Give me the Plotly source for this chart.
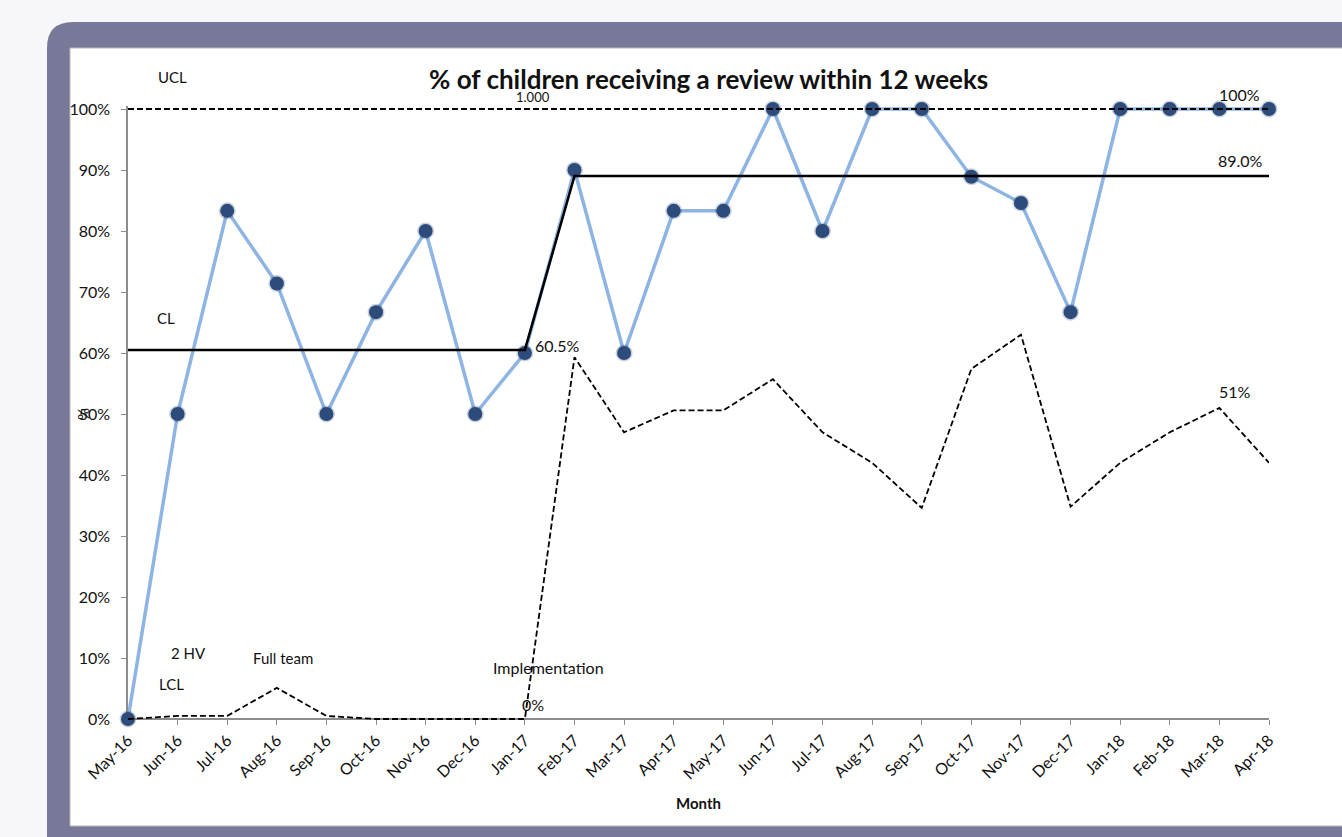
import plotly.graph_objects as go

# ---- data ----
months = ["May-16", "Jun-16", "Jul-16", "Aug-16", "Sep-16", "Oct-16", "Nov-16",
          "Dec-16", "Jan-17", "Feb-17", "Mar-17", "Apr-17", "May-17", "Jun-17",
          "Jul-17", "Aug-17", "Sep-17", "Oct-17", "Nov-17", "Dec-17", "Jan-18",
          "Feb-18", "Mar-18", "Apr-18"]
pct_reviewed = [0, 50, 83.3, 71.4, 50, 66.7, 80, 50, 60, 90, 60, 83.3, 83.3,
                100, 80, 100, 100, 88.9, 84.6, 66.7, 100, 100, 100, 100]
centre_line = [60.5, 60.5, 60.5, 60.5, 60.5, 60.5, 60.5, 60.5, 60.5,
               89.0, 89.0, 89.0, 89.0, 89.0, 89.0, 89.0, 89.0, 89.0, 89.0,
               89.0, 89.0, 89.0, 89.0, 89.0]
upper_limit = [100, 100, 100, 100, 100, 100, 100, 100, 100, 100, 100, 100,
               100, 100, 100, 100, 100, 100, 100, 100, 100, 100, 100, 100]
lower_limit = [0, 0.5, 0.5, 5.1, 0.5, 0, 0, 0, 0, 59.3, 47, 50.6, 50.6, 55.7,
               47, 42, 34.6, 57.4, 63, 34.8, 42, 47, 51, 42]
y_ticks = [0, 10, 20, 30, 40, 50, 60, 70, 80, 90, 100]
y_tick_text = ["0%", "10%", "20%", "30%", "40%", "50%", "60%", "70%", "80%",
               "90%", "100%"]

# ---- page geometry (pixels) ----
W, H = 1342, 837
PAD = 3                      # px of headroom so limit lines at 0/100 aren't clipped
L, R, T, B = 128, 73, 109 - PAD, 118 - PAD
PW, PH = W - L - R, H - T - B
UNIT = (PH - 2 * PAD) / 100  # px per percentage point
Y_PAD = PAD / UNIT
FONT = "Lato, 'Open Sans', sans-serif"
x_idx = list(range(len(months)))


def px(x):
    return (x - L) / PW


def py(y):
    return (H - B - y) / PH


fig = go.Figure()

# measured series
fig.add_trace(go.Scatter(
    x=x_idx, y=pct_reviewed, mode="lines+markers", cliponaxis=False,
    line=dict(color="#8db4e2", width=3.5),
    marker=dict(size=14, color="#2d4b7b",
                line=dict(color="rgba(45,75,123,0.25)", width=3)),
    showlegend=False, hoverinfo="x+y"))

# centre line
fig.add_trace(go.Scatter(
    x=x_idx, y=centre_line, mode="lines", cliponaxis=False,
    line=dict(color="black", width=2.5), showlegend=False))

# upper and lower control limits
fig.add_trace(go.Scatter(
    x=x_idx, y=upper_limit, mode="lines", cliponaxis=False,
    line=dict(color="black", width=1.8, dash="6px,3px"), showlegend=False))
fig.add_trace(go.Scatter(
    x=x_idx, y=lower_limit, mode="lines", cliponaxis=False,
    line=dict(color="black", width=1.8, dash="6px,3px"), showlegend=False))

# ---- frame ----
x0o, y0o, rad = 47, 22, 26
x1o, y1o = W + 20, H + 20
frame_path = (
    f"M {px(x0o)},{py(y1o)} L {px(x0o)},{py(y0o + rad)} "
    f"Q {px(x0o)},{py(y0o)} {px(x0o + rad)},{py(y0o)} "
    f"L {px(x1o)},{py(y0o)} L {px(x1o)},{py(y1o)} Z")
shapes = [
    dict(type="path", xref="paper", yref="paper", path=frame_path,
         fillcolor="#787899", line=dict(width=0), layer="below"),
    dict(type="rect", xref="paper", yref="paper",
         x0=px(70), x1=px(W + 10), y0=py(826), y1=py(48),
         fillcolor="white", line=dict(color="#b8b8b8", width=1), layer="below"),
]

# ---- text ----
annotations = []


def free_text(text, x, y, size=15, bold=False, angle=0):
    annotations.append(dict(
        text=f"<b>{text}</b>" if bold else text, xref="paper", yref="paper",
        x=px(x), y=py(y), xanchor="center", yanchor="middle",
        showarrow=False, textangle=angle,
        font=dict(family=FONT, size=size, color="#111")))


free_text("% of children receiving a review within 12 weeks", 709, 79, size=26, bold=True)
free_text("UCL", 172, 77)
free_text("CL", 166, 318)
free_text("LCL", 171, 684)
free_text("2 HV", 188, 653)
free_text("Full team", 283, 658)
free_text("Implementation", 548, 667, size=16)
free_text("Month", 698, 803, size=15, bold=True)
free_text("%", 83, 414, size=15, angle=-90)


def point_label(text, i, y, xanchor="center", xshift=0, yshift=14, size=16):
    annotations.append(dict(
        text=text, x=i, y=y, xref="x", yref="y", xanchor=xanchor,
        yanchor="middle", xshift=xshift, yshift=yshift, showarrow=False,
        font=dict(family=FONT, size=size, color="#111")))


point_label("1.000", 8, upper_limit[8], xshift=8, yshift=12, size=13)
point_label(f"{lower_limit[8]:.0f}%", 8, lower_limit[8], xshift=8, yshift=15)
point_label(f"{centre_line[8]:.1f}%", 8, centre_line[8], xanchor="left", xshift=8, yshift=4)
point_label(f"{centre_line[22]:.1f}%", 22, centre_line[22], xanchor="left", xshift=-3, yshift=16)
point_label(f"{upper_limit[22]:.0f}%", 22, upper_limit[22], xanchor="left", xshift=-2, yshift=15)
point_label(f"{lower_limit[22]:.0f}%", 22, lower_limit[22], xanchor="left", xshift=-2, yshift=16)

fig.update_layout(
    width=W, height=H, margin=dict(l=L, r=R, t=T, b=B),
    paper_bgcolor="#f7f7fb", plot_bgcolor="rgba(0,0,0,0)",
    shapes=shapes, annotations=annotations,
    font=dict(family=FONT, size=15, color="#111"),
    xaxis=dict(range=[0, len(months) - 1], tickmode="array", tickvals=x_idx,
               ticktext=months, tickangle=-45, showgrid=False, zeroline=False,
               anchor="free", position=PAD / PH, layer="below traces",
               showline=True, linecolor="#8c8c8c", linewidth=1.5,
               ticks="outside", ticklen=5, tickcolor="#8c8c8c",
               tickfont=dict(family=FONT, size=16, color="#111")),
    yaxis=dict(range=[-Y_PAD, 100 + Y_PAD], tickmode="array", tickvals=y_ticks,
               ticktext=y_tick_text, layer="below traces",
               showgrid=False, zeroline=False, showline=True,
               linecolor="#8c8c8c", linewidth=1.5, ticks="outside", ticklen=5,
               tickcolor="#8c8c8c", ticklabelstandoff=8,
               tickfont=dict(family=FONT, size=16, color="#111")),
)

fig.write_html("out.html")
